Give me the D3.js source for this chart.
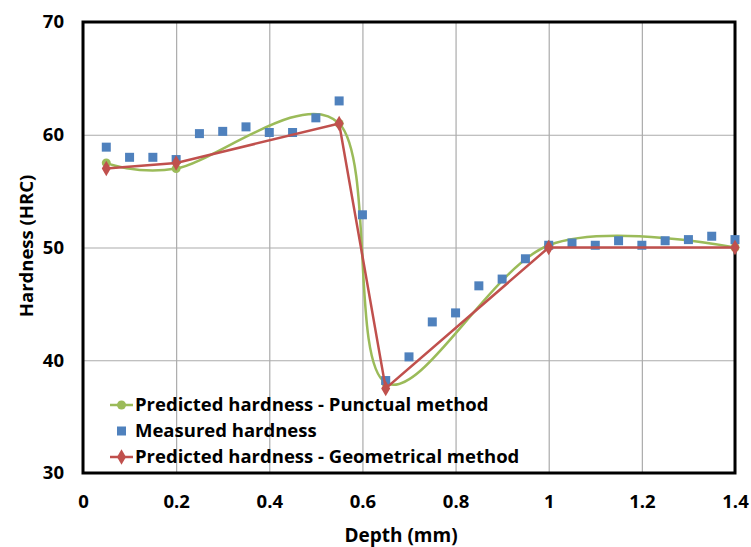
<!DOCTYPE html>
<html>
<head>
<meta charset="utf-8">
<script src="https://cdn.jsdelivr.net/npm/d3@7"></script>
<style>
  body { margin: 0; background: #fff; }
  text { font-family: "Open Sans", sans-serif; font-weight: bold; fill: #000; }
</style>
</head>
<body>
<script>
const margin = { top: 22, right: 16, bottom: 74, left: 83 };
const width  = 751 - margin.left - margin.right;
const height = 547 - margin.top - margin.bottom;

// measured hardness (blue squares)
const measuredDepth = [0.05, 0.1, 0.15, 0.2, 0.25, 0.3, 0.35, 0.4, 0.45, 0.5, 0.55,
  0.6, 0.65, 0.7, 0.75, 0.8, 0.85, 0.9, 0.95, 1.0, 1.05, 1.1, 1.15, 1.2, 1.25, 1.3, 1.35, 1.4];
const measuredHRC = [58.9, 58.0, 58.0, 57.8, 60.1, 60.3, 60.7, 60.2, 60.2, 61.5, 63.0,
  52.9, 38.2, 40.3, 43.4, 44.2, 46.6, 47.2, 49.0, 50.2, 50.4, 50.2, 50.6, 50.2, 50.6, 50.7, 51.0, 50.7];

// predicted - punctual method (green, smoothed)
const punctualDepth = [0.05, 0.2, 0.55, 0.65, 1.0, 1.4];
const punctualHRC   = [57.5, 57.0, 61.0, 38.0, 50.2, 50.0];

// predicted - geometrical method (red, straight)
const geomDepth = [0.05, 0.2, 0.55, 0.65, 1.0, 1.4];
const geomHRC   = [57.0, 57.5, 61.0, 37.5, 50.0, 50.0];

const xTicks = [0, 0.2, 0.4, 0.6, 0.8, 1.0, 1.2, 1.4];
const yTicks = [30, 40, 50, 60, 70];

const legendLabels = [
  'Predicted hardness - Punctual method',
  'Measured hardness',
  'Predicted hardness - Geometrical method',
];

const green = '#9BBB59', blue = '#4F81BD', red = '#C0504D';

const svg = d3.select('body').append('svg')
    .attr('width', 751)
    .attr('height', 547);

const g = svg.append('g')
    .attr('transform', 'translate(' + margin.left + ',' + margin.top + ')');

const x = d3.scaleLinear().domain([0, 1.4]).range([0, width]);
const y = d3.scaleLinear().domain([30, 70]).range([height, 0]);

// grid
g.append('g')
    .attr('transform', 'translate(0,' + height + ')')
    .call(d3.axisBottom(x).tickValues(xTicks).tickSize(-height).tickFormat(''))
    .call(a => a.select('.domain').remove())
    .selectAll('line').attr('stroke', '#ababab').attr('stroke-width', 1.2);

g.append('g')
    .call(d3.axisLeft(y).tickValues(yTicks).tickSize(-width).tickFormat(''))
    .call(a => a.select('.domain').remove())
    .selectAll('line').attr('stroke', '#ababab').attr('stroke-width', 1.2);

// tick labels
g.append('g')
    .attr('transform', 'translate(0,' + height + ')')
    .call(d3.axisBottom(x).tickValues(xTicks).tickSize(0).tickPadding(22).tickFormat(d3.format('~g')))
    .call(a => a.select('.domain').remove())
    .selectAll('text')
    .style('font-size', '18.5px');

g.append('g')
    .call(d3.axisLeft(y).tickValues(yTicks).tickSize(0).tickPadding(19))
    .call(a => a.select('.domain').remove())
    .selectAll('text')
    .style('font-size', '18.5px');

// plot border
g.append('rect')
    .attr('width', width)
    .attr('height', height)
    .attr('fill', 'none')
    .attr('stroke', '#000')
    .attr('stroke-width', 3);

// axis titles
svg.append('text')
    .attr('x', 401)
    .attr('y', 542)
    .attr('text-anchor', 'middle')
    .style('font-size', '19px')
    .text('Depth (mm)');

svg.append('text')
    .attr('transform', 'translate(33,' + 246 + ') rotate(-90)')
    .attr('text-anchor', 'middle')
    .style('font-size', '18.5px')
    .text('Hardness (HRC)');

const diamond = d3.symbol().type(d3.symbolDiamond).size(70);

// punctual (green smooth)
const punctual = punctualDepth.map((d, i) => [d, punctualHRC[i]]);
const lineSmooth = d3.line()
    .x(d => x(d[0]))
    .y(d => y(d[1]))
    .curve(d3.curveCardinal.tension(0));

g.append('path')
    .datum(punctual)
    .attr('d', lineSmooth)
    .attr('fill', 'none')
    .attr('stroke', green)
    .attr('stroke-width', 2.5);

g.selectAll('.pt-green')
    .data(punctual)
    .enter().append('circle')
    .attr('class', 'pt-green')
    .attr('cx', d => x(d[0]))
    .attr('cy', d => y(d[1]))
    .attr('r', 4.5)
    .attr('fill', green);

// measured
g.selectAll('.pt-blue')
    .data(measuredDepth.map((d, i) => [d, measuredHRC[i]]))
    .enter().append('rect')
    .attr('class', 'pt-blue')
    .attr('x', d => x(d[0]) - 4.5)
    .attr('y', d => y(d[1]) - 4.5)
    .attr('width', 9)
    .attr('height', 9)
    .attr('fill', blue);

// geometrical (red straight)
const geom = geomDepth.map((d, i) => [d, geomHRC[i]]);
const lineStraight = d3.line()
    .x(d => x(d[0]))
    .y(d => y(d[1]));

g.append('path')
    .datum(geom)
    .attr('d', lineStraight)
    .attr('fill', 'none')
    .attr('stroke', red)
    .attr('stroke-width', 2.5);

g.selectAll('.pt-red')
    .data(geom)
    .enter().append('path')
    .attr('class', 'pt-red')
    .attr('transform', d => 'translate(' + x(d[0]) + ',' + y(d[1]) + ')')
    .attr('d', diamond)
    .attr('fill', red);

// legend
const legend = svg.append('g');
const rowY = [405, 431, 457];
const colors = [green, blue, red];

legendLabels.forEach((label, i) => {
  const row = legend.append('g').attr('transform', 'translate(0,' + rowY[i] + ')');
  if (i !== 1) {
    row.append('line')
        .attr('x1', 110).attr('x2', 133)
        .attr('stroke', colors[i]).attr('stroke-width', 2.5);
  }
  if (i === 0) {
    row.append('circle').attr('cx', 121.5).attr('r', 4.5).attr('fill', green);
  } else if (i === 1) {
    row.append('rect').attr('x', 117).attr('y', -4.5).attr('width', 9).attr('height', 9).attr('fill', blue);
  } else {
    row.append('path').attr('transform', 'translate(121.5,0)').attr('d', diamond).attr('fill', red);
  }
  row.append('text')
      .attr('x', 135)
      .attr('dy', '0.35em')
      .style('font-size', '18.5px')
      .text(label);
});
</script>
</body>
</html>
